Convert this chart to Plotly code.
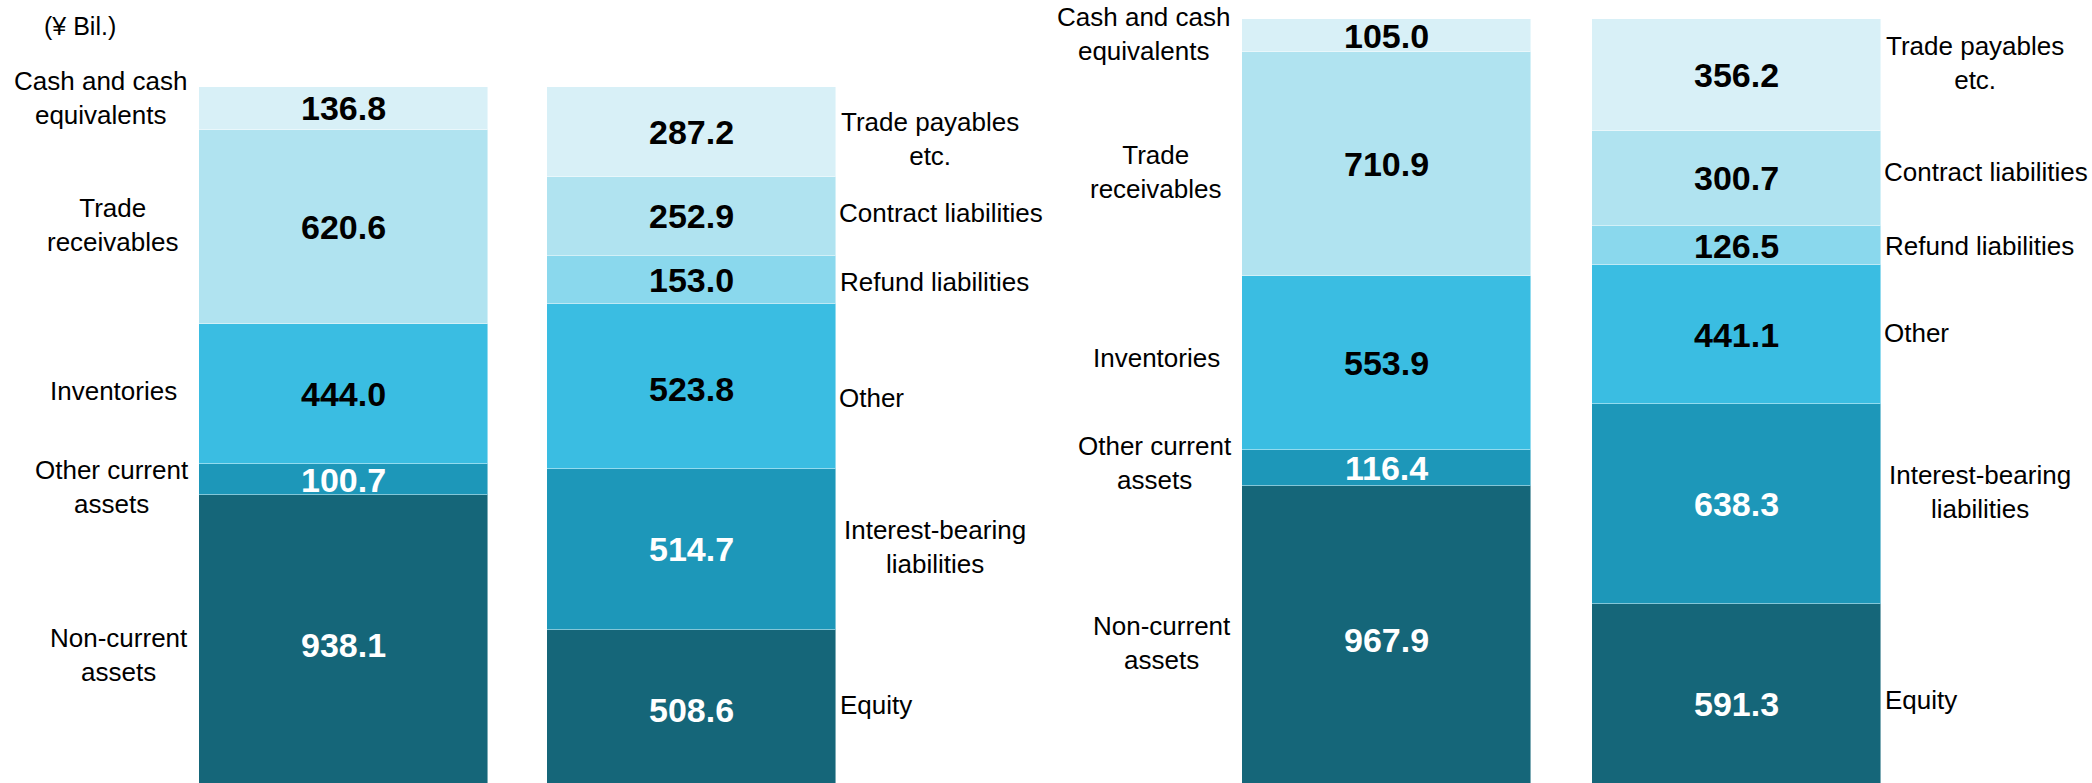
import plotly.graph_objects as go

# ---------------- data ----------------
ASSET_CATS = ["Cash and cash<br>equivalents", "Trade<br>receivables", "Inventories",
              "Other current<br>assets", "Non-current<br>assets"]
LIAB_CATS = ["Trade payables<br>etc.", "Contract liabilities", "Refund liabilities",
             "Other", "Interest-bearing<br>liabilities", "Equity"]

ASSETS_1 = [136.8, 620.6, 444.0, 100.7, 938.1]
LIAB_1 = [287.2, 252.9, 153.0, 523.8, 514.7, 508.6]
ASSETS_2 = [105.0, 710.9, 553.9, 116.4, 967.9]
LIAB_2 = [356.2, 300.7, 126.5, 441.1, 638.3, 591.3]

UNIT_LABEL = "(¥ Bil.)"

# ---------------- styles / layout ----------------
W, H = 2092, 783
BAR_X = [343.5, 691.0, 1386.5, 1736.0]   # bar centres (x axis in pixel-like units)
BAR_W = 289
ASSET_COLORS = ["#d8f0f7", "#b0e3f0", "#3abde2", "#1d97b9", "#156679"]
LIAB_COLORS = ["#d8f0f7", "#b0e3f0", "#8ad8ed", "#3abde2", "#1d97b9", "#156679"]
ASSET_TXT = ["black", "black", "black", "white", "white"]
LIAB_TXT = ["black", "black", "black", "black", "white", "white"]
FONT = "Liberation Sans, Arial, sans-serif"
LABEL_SIZE = 26
VALUE_SIZE = 34

# label placement tweaks (pixels)
ASSET_LABEL_OFF = [99, 86, 86, 87, 80]       # centre distance left of bar's left edge
LIAB_LABEL_GAP = [3, 1, 2, 1, 6, 2]          # gap right of bar's right edge
YSHIFT_A1 = [10, 2, 3, -7, -12]
YSHIFT_L1 = [-7, 3, -2, -12, 2, 5]
YSHIFT_A2 = [2, -8, 5, 5, -5]
YSHIFT_L2 = [12, 6, 0, 2, 12, -3]
VSHIFT_A1 = [0, 0, 0, 0, -2]
VSHIFT_L1 = [0, 0, 0, -3, 0, 0]
VSHIFT_A2 = [0, 0, 0, 0, -2]
VSHIFT_L2 = [0, 0, 0, 0, 0, -7]

fig = go.Figure()
annotations = []


def add_stack(xc, values, cats, colors, txtcols, label_side, yshifts, vshifts, name_prefix):
    # stack from bottom (last item) to top (first item)
    n = len(values)
    base = 0.0
    bases = [0.0] * n
    for i in range(n - 1, -1, -1):
        bases[i] = base
        base += values[i]
    for i in range(n - 1, -1, -1):
        fig.add_trace(go.Bar(
            x=[xc], y=[values[i]], width=BAR_W,
            marker=dict(color=colors[i], line=dict(color="rgba(255,255,255,0.45)", width=1)),
            name=f"{name_prefix} {cats[i]}", showlegend=False, hoverinfo="skip",
        ))
    for i in range(n):
        mid = bases[i] + values[i] / 2
        annotations.append(dict(
            x=xc, y=mid, xref="x", yref="y", text=f"{values[i]:.1f}",
            showarrow=False, xanchor="center", yanchor="middle", yshift=vshifts[i],
            font=dict(family=FONT, size=VALUE_SIZE, color=txtcols[i], weight="bold"),
        ))
        if label_side == "left":
            annotations.append(dict(
                x=xc - BAR_W / 2 - ASSET_LABEL_OFF[i], y=mid, xref="x", yref="y",
                text=cats[i], showarrow=False, xanchor="center", yanchor="middle",
                align="center", yshift=yshifts[i],
                font=dict(family=FONT, size=LABEL_SIZE, color="black"),
            ))
        else:
            annotations.append(dict(
                x=xc + BAR_W / 2 + LIAB_LABEL_GAP[i], y=mid, xref="x", yref="y",
                text=cats[i], showarrow=False, xanchor="left", yanchor="middle",
                align="center", yshift=yshifts[i],
                font=dict(family=FONT, size=LABEL_SIZE, color="black"),
            ))


add_stack(BAR_X[0], ASSETS_1, ASSET_CATS, ASSET_COLORS, ASSET_TXT, "left", YSHIFT_A1, VSHIFT_A1, "A1")
add_stack(BAR_X[1], LIAB_1, LIAB_CATS, LIAB_COLORS, LIAB_TXT, "right", YSHIFT_L1, VSHIFT_L1, "L1")
add_stack(BAR_X[2], ASSETS_2, ASSET_CATS, ASSET_COLORS, ASSET_TXT, "left", YSHIFT_A2, VSHIFT_A2, "A2")
add_stack(BAR_X[3], LIAB_2, LIAB_CATS, LIAB_COLORS, LIAB_TXT, "right", YSHIFT_L2, VSHIFT_L2, "L2")

annotations.append(dict(
    x=80, y=1 - 26 / H, xref="x", yref="paper", text=UNIT_LABEL, showarrow=False,
    xanchor="center", yanchor="middle", font=dict(family=FONT, size=25, color="black"),
))

PX_PER_UNIT = 0.314
Y0 = 7 / PX_PER_UNIT  # bars continue a few pixels below the picture
fig.update_layout(
    width=W, height=H, barmode="stack", bargap=0,
    margin=dict(l=0, r=0, t=0, b=0),
    paper_bgcolor="white", plot_bgcolor="white",
    xaxis=dict(range=[0, W], visible=False, fixedrange=True),
    yaxis=dict(range=[Y0, Y0 + H / PX_PER_UNIT], visible=False, fixedrange=True),
    annotations=annotations,
    showlegend=False,
)

fig.write_html(
    "out.html",
    config={"displayModeBar": False},
    post_script="document.body.style.margin='0';document.body.style.overflow='hidden';",
)
